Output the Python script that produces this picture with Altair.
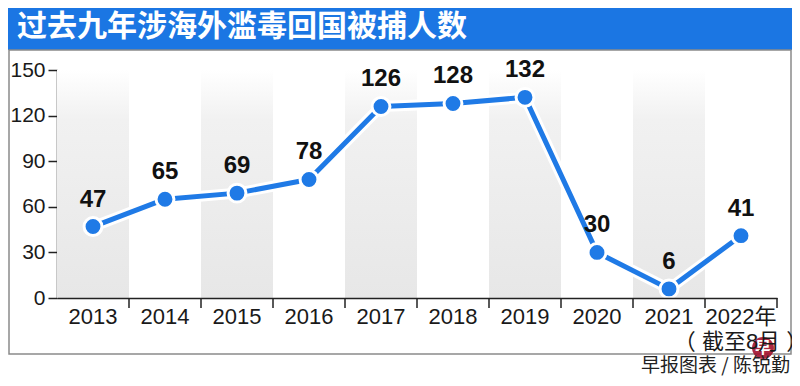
import altair as alt
import pandas as pd

years = ["2013", "2014", "2015", "2016", "2017", "2018", "2019", "2020", "2021", "2022"]
counts = [47, 65, 69, 78, 126, 128, 132, 30, 6, 41]
shaded_years = ["2013", "2015", "2017", "2019", "2021"]
y_ticks = [0, 30, 60, 90, 120, 150]
title_text = "过去九年涉海外滥毒回国被捕人数"
source_text = "早报图表 / 陈锐勤"
last_label = ["2022年", "（ 截至8月 ）"]

BLUE = "#1f7ae6"
BANNER = "#1b76e3"
NUM_FONT = "Liberation Sans, Noto Sans CJK SC"
CJK_FONT = "Noto Sans CJK SC"

df = pd.DataFrame({"year": years, "count": counts})
bands_df = pd.DataFrame({"year": shaded_years})
ticks_df = pd.DataFrame({"year": years})
one = pd.DataFrame({"a": [0]})

xscale = alt.Scale(domain=years, paddingInner=0, paddingOuter=0)
yscale = alt.Scale(domain=[0, 150], nice=False)

label_expr = (
    "datum.value == '2022' ? ['" + last_label[0] + "', '" + last_label[1] + "'] : datum.value"
)

x_enc = alt.X(
    "year:N",
    scale=xscale,
    sort=years,
    axis=alt.Axis(
        title=None,
        labelAngle=0,
        labelFont=NUM_FONT,
        labelFontSize=22,
        labelColor="#1a1a1a",
        labelPadding=18,
        labelLineHeight=25,
        labelExpr=label_expr,
        labelAlign="center",
        labelOverlap=False,
        ticks=False,
        domainColor="#222",
        domainWidth=1.5,
        grid=False,
    ),
)
y_enc = alt.Y(
    "count:Q",
    scale=yscale,
    axis=alt.Axis(
        title=None,
        values=y_ticks,
        grid=False,
        labelFont=NUM_FONT,
        labelFontSize=21,
        labelColor="#1a1a1a",
        labelPadding=3,
        tickSize=9,
        tickColor="#222",
        tickWidth=1.5,
        domainColor="#222",
        domainWidth=1.5,
    ),
)

gradient = alt.LinearGradient(
    gradient="linear",
    stops=[
        alt.GradientStop(color="#ffffff", offset=0),
        alt.GradientStop(color="#f1f1f1", offset=0.22),
        alt.GradientStop(color="#e7e7e7", offset=1),
    ],
    x1=0, y1=0, x2=0, y2=1,
)

xs = alt.X("year:N", scale=xscale, sort=years)
ys = alt.Y("count:Q", scale=yscale)

bands = alt.Chart(bands_df).mark_rect(fill=gradient).encode(
    x=xs, y=alt.value(0), y2=alt.value(228),
)

tick_marks = alt.Chart(ticks_df).mark_rule(color="#222", strokeWidth=1.5).encode(
    x=alt.X("year:N", scale=xscale, sort=years, bandPosition=1),
    y=alt.value(228), y2=alt.value(238),
)

halo = alt.Chart(df).mark_line(color="white", strokeWidth=11, strokeJoin="round").encode(
    x=x_enc, y=y_enc
)
line = alt.Chart(df).mark_line(color=BLUE, strokeWidth=5, strokeJoin="round").encode(
    x=xs, y=ys
)
points = alt.Chart(df).mark_point(
    shape="circle", filled=True, fill=BLUE, stroke="white", strokeWidth=3,
    size=320, opacity=1, fillOpacity=1, strokeOpacity=1,
).encode(x=xs, y=ys)
labels = alt.Chart(df).mark_text(
    font=NUM_FONT, fontSize=24, fontWeight="bold", color="#111", dy=-27, baseline="middle"
).encode(x=xs, y=ys, text="count:Q")

banner = alt.Chart(one).mark_rect(color=BANNER).encode(
    x=alt.value(-49), x2=alt.value(735), y=alt.value(-62), y2=alt.value(-20)
)
title = alt.Chart(one).mark_text(
    text=title_text, font=CJK_FONT, fontSize=30, fontWeight="bold", color="white",
    align="left", baseline="middle",
).encode(x=alt.value(-40), y=alt.value(-43))
frame = alt.Chart(one).mark_rect(fillOpacity=0, stroke="#8a8a8a", strokeWidth=1.5).encode(
    x=alt.value(-48), x2=alt.value(734), y=alt.value(-20), y2=alt.value(284)
)
logo = alt.Chart(one).mark_point(
    shape="circle", filled=True, fill="#a3122e", size=480, opacity=0.9
).encode(x=alt.value(706), y=alt.value(278))
logo_text = alt.Chart(one).mark_text(
    text="早", font=CJK_FONT, fontSize=16, fontWeight="bold", color="white",
    align="center", baseline="middle",
).encode(x=alt.value(706), y=alt.value(278))
source = alt.Chart(one).mark_text(
    text=source_text, font=CJK_FONT, fontSize=19, color="#222",
    align="right", baseline="middle",
).encode(x=alt.value(733), y=alt.value(296))

chart = alt.layer(
    bands, tick_marks, halo, line, points, labels, banner, title, frame, logo, logo_text, source
).properties(
    width=720,
    height=228,
    autosize=alt.AutoSizeParams(type="none"),
    padding={"left": 49, "top": 62, "right": 15, "bottom": 80},
    background="white",
).configure_view(stroke=None)

chart.save("out.html", embed_options={"renderer": "svg", "actions": False})
